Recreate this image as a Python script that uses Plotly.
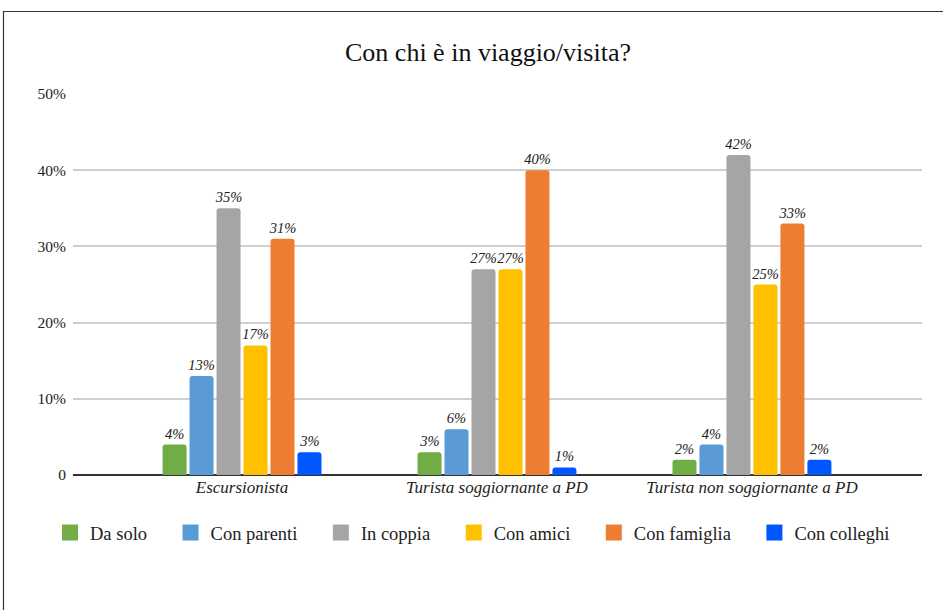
import plotly.graph_objects as go

categories = ["Escursionista", "Turista soggiornante a PD", "Turista non soggiornante a PD"]
series_names = ["Da solo", "Con parenti", "In coppia", "Con amici", "Con famiglia", "Con colleghi"]
da_solo = [4, 3, 2]
con_parenti = [13, 6, 4]
in_coppia = [35, 27, 42]
con_amici = [17, 27, 25]
con_famiglia = [31, 40, 33]
con_colleghi = [3, 1, 2]
colors = ["#70AD47", "#5B9BD5", "#A5A5A5", "#FFC000", "#ED7D31", "#0057FF"]
tick_vals = [0, 10, 20, 30, 40, 50]
tick_text = ["0", "10%", "20%", "30%", "40%", "50%"]

FONT = "Liberation Serif"
values = [da_solo, con_parenti, in_coppia, con_amici, con_famiglia, con_colleghi]
PAD = "\u00a0" * 4

fig = go.Figure()
for name, vals, col in zip(series_names, values, colors):
    fig.add_trace(go.Bar(
        name=name, x=categories, y=vals, marker_color=col,
        marker_line_width=0, showlegend=False, legendgroup=name,
        text=[f"{v}%" for v in vals], textposition="outside",
        constraintext="none",
        textfont=dict(family=FONT, size=14.5, color="#222", style="italic"),
        cliponaxis=False,
    ))
# legend entries (larger square swatches)
for i, (name, col) in enumerate(zip(series_names, colors)):
    label = name + (PAD if i < len(series_names) - 1 else "")
    fig.add_trace(go.Scatter(
        name=label, x=[None], y=[None], mode="markers", legendgroup=name,
        marker=dict(symbol="square", size=16, color=col, line=dict(width=0)),
        hoverinfo="skip",
    ))

W, H = 943, 610
L, R, T, B = 73, 21, 94, 135
pw, ph = W - L - R, H - T - B

def px(x):
    return (x - L) / pw

def py(y):
    return (H - B - y) / ph

fig.update_layout(
    width=W, height=H,
    margin=dict(l=L, r=R, t=T, b=B),
    paper_bgcolor="white", plot_bgcolor="white",
    barmode="group", bargap=0.365, bargroupgap=0.11,
    barcornerradius=3,
    title=dict(text="Con chi è in viaggio/visita?", x=488 / W, xanchor="center",
               y=1 - 52 / H, yanchor="middle",
               font=dict(family=FONT, size=26, color="#111")),
    font=dict(family=FONT, size=14, color="#222"),
    xaxis=dict(range=[-0.663, 2.667], showgrid=False, showline=False,
               tickfont=dict(family=FONT, size=17, color="#222", style="italic"),
               ticks=""),
    yaxis=dict(range=[0, 50], tickvals=tick_vals, ticktext=tick_text,
               showgrid=True, gridcolor="#CFCFCF", gridwidth=1.5,
               zeroline=True, zerolinecolor="#333", zerolinewidth=2,
               showline=False, ticks="", ticklabelstandoff=6,
               tickfont=dict(family=FONT, size=15.5, color="#222")),
    legend=dict(orientation="h", x=px(50), xanchor="left", y=py(533), yanchor="middle",
                font=dict(family=FONT, size=18.5, color="#222"),
                itemwidth=30, tracegroupgap=0, traceorder="normal"),
    showlegend=True,
    shapes=[dict(type="path", xref="paper", yref="paper",
                 path=f"M {px(3.5)} {py(620)} L {px(3.5)} {py(11.5)} L {px(960)} {py(11.5)}",
                 line=dict(color="#333", width=1.2))],
)

fig.write_html("out.html", config={"displayModeBar": False},
               post_script="document.body.style.margin='0';")
